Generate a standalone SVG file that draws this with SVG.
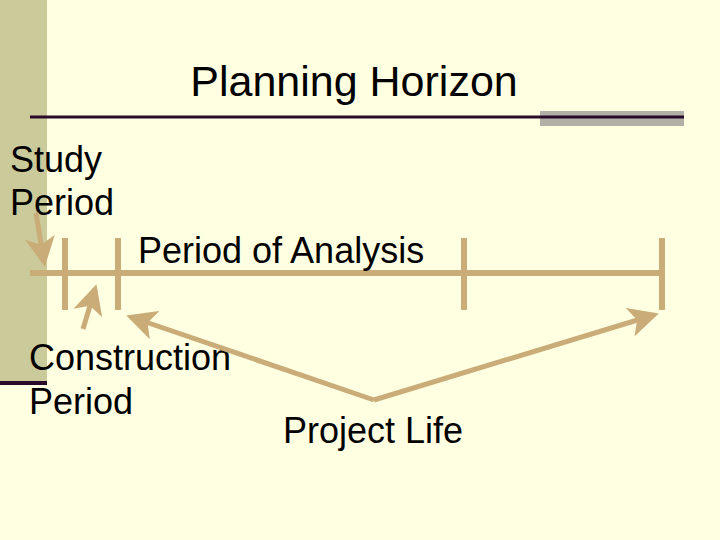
<svg xmlns="http://www.w3.org/2000/svg" width="720" height="540" viewBox="0 0 720 540">
<defs>
<style>
.t{font-family:"Liberation Sans",Arial,sans-serif;fill:#000;font-size:36px}
.ln{stroke:#C9AC78;stroke-width:6;fill:none}
.ar{stroke:#C9AC78;stroke-width:5;fill:none}
</style>
<marker id="ah" markerWidth="6" markerHeight="6" refX="5" refY="3" orient="auto" markerUnits="strokeWidth">
<path d="M0,0 L6,3 L0,6 L1.5,3 Z" fill="#C9AC78"/>
</marker>
</defs>
<rect width="720" height="540" fill="#FFFFE1"/>
<rect x="0" y="0" width="47" height="383" fill="#CBCA9A"/>
<rect x="0" y="381" width="47" height="4" fill="#2A0A2A"/>
<rect x="540" y="111" width="144" height="15" fill="#B1B0A6"/>
<line x1="30" y1="117" x2="684" y2="117" stroke="#2A0A2A" stroke-width="3"/>
<g id="title"><text class="t" x="354" y="96" style="font-size:43px" text-anchor="middle">Planning Horizon</text></g>
<g id="timeline">
<line class="ln" x1="30" y1="273" x2="665" y2="273"/>
<line class="ln" x1="65" y1="238" x2="65" y2="310"/>
<line class="ln" x1="118" y1="238" x2="118" y2="310"/>
<line class="ln" x1="464" y1="238" x2="464" y2="310"/>
<line class="ln" x1="662" y1="238" x2="662" y2="310"/>
</g>
<g id="study"><text class="t" x="10" y="172">Study</text><text class="t" x="10" y="215">Period</text></g>
<g id="analysis"><text class="t" x="138" y="263">Period of Analysis</text></g>
<g id="construction"><text class="t" x="29" y="370">Construction</text><text class="t" x="29" y="414">Period</text></g>
<g id="projectlife"><text class="t" x="283" y="443">Project Life</text></g>
<g id="connectors">
<line class="ar" x1="36" y1="213" x2="44" y2="262" marker-end="url(#ah)"/>
<line class="ar" x1="83" y1="329" x2="95" y2="289" marker-end="url(#ah)"/>
<line class="ar" x1="374" y1="400" x2="131" y2="317" marker-end="url(#ah)"/>
<line class="ar" x1="374" y1="400" x2="654" y2="315" marker-end="url(#ah)"/>
</g>
</svg>
